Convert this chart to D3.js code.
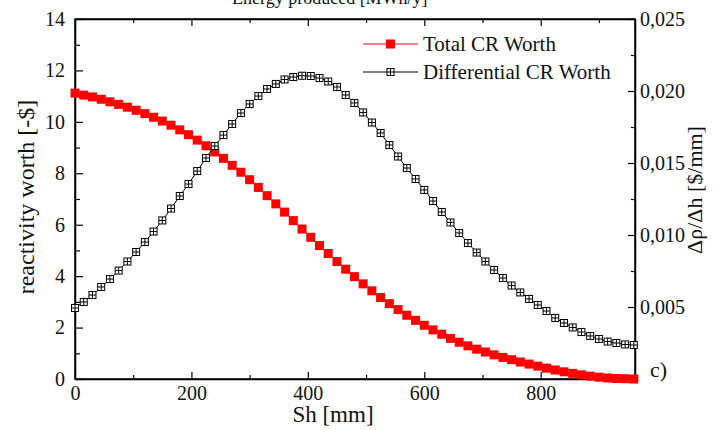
<!DOCTYPE html>
<html>
<head>
<meta charset="utf-8">
<script src="https://cdn.jsdelivr.net/npm/d3@7"></script>
<style>
  html, body { margin: 0; padding: 0; background: #fff; }
  svg text { font-family: "Liberation Serif", "Times New Roman", Times, serif; fill: #111; }
</style>
</head>
<body>
<div class="chart"></div>
<script>
// Rod position (mm) for every sample
const positions = [0, 15, 30, 45, 60, 75, 90, 105, 120, 135, 150, 165, 180, 195, 210, 225,
  240, 255, 270, 285, 300, 315, 330, 345, 360, 375, 390, 405, 420, 435, 450, 465,
  480, 495, 510, 525, 540, 555, 570, 585, 600, 615, 630, 645, 660, 675, 690, 705,
  720, 735, 750, 765, 780, 795, 810, 825, 840, 855, 870, 885, 900, 915, 930, 945, 960];

// Total CR worth [-$] (left axis)
const totalWorth = [11.12, 11.04, 10.97, 10.88, 10.78, 10.68, 10.57, 10.45, 10.32, 10.18, 10.03, 9.87,
  9.69, 9.50, 9.29, 9.07, 8.83, 8.58, 8.31, 8.04, 7.75, 7.45, 7.13, 6.81, 6.49, 6.16, 5.83, 5.51,
  5.19, 4.88, 4.57, 4.27, 3.98, 3.70, 3.43, 3.17, 2.93, 2.70, 2.48, 2.28, 2.09, 1.91, 1.74, 1.58,
  1.43, 1.29, 1.16, 1.05, 0.94, 0.84, 0.75, 0.66, 0.58, 0.50, 0.42, 0.35, 0.28, 0.22, 0.16, 0.11,
  0.07, 0.04, 0.02, 0.01, 0.00];

// Differential CR worth [$/mm] (right axis)
const diffWorth = [0.00493, 0.00535, 0.00583, 0.00639, 0.00694, 0.00753, 0.00816, 0.00882, 0.00951,
  0.01024, 0.01101, 0.01184, 0.01271, 0.01354, 0.01444, 0.01535, 0.01618, 0.01694, 0.01771, 0.01847,
  0.01910, 0.01965, 0.02014, 0.02049, 0.02080, 0.02097, 0.02106, 0.02104, 0.02090, 0.02066, 0.02028,
  0.01972, 0.01917, 0.01851, 0.01781, 0.01708, 0.01625, 0.01545, 0.01465, 0.01389, 0.01313, 0.01236,
  0.01160, 0.01087, 0.01014, 0.00944, 0.00878, 0.00816, 0.00757, 0.00701, 0.00649, 0.00601, 0.00556,
  0.00514, 0.00472, 0.00424, 0.00389, 0.00358, 0.00326, 0.00299, 0.00278, 0.00260, 0.00250, 0.00240,
  0.00236];

// Tick values
const xMajorTicks = [0, 200, 400, 600, 800];
const xMinorTicks = [100, 300, 500, 700, 900];
const yLeftMajor = [0, 2, 4, 6, 8, 10, 12, 14];
const yLeftMinor = [1, 3, 5, 7, 9, 11, 13];
const yRightMajor = [0.005, 0.010, 0.015, 0.020, 0.025];
const yRightMinor = [0.0025, 0.0075, 0.0125, 0.0175, 0.0225];

const seriesNames = ["Total CR Worth", "Differential CR Worth"];

// Chart dimensions
const W = 720, H = 430;
const plot = { left: 75, right: 635, top: 19, bottom: 379 };

const svg = d3.select(".chart")
  .append("svg")
  .attr("width", W)
  .attr("height", H)
  .style("display", "block");

svg.append("rect").attr("width", W).attr("height", H).attr("fill", "#fff");

// Scales
const x = d3.scaleLinear().domain([0, 962]).range([plot.left, plot.right]);
const yL = d3.scaleLinear().domain([0, 14]).range([plot.bottom, plot.top]);
const yR = d3.scaleLinear().domain([0, 0.025]).range([plot.bottom, plot.top]);

// Title of the panel above, cut off by the top edge
svg.append("text")
  .attr("x", 232)
  .attr("y", 4)
  .attr("font-size", 18)
  .text("Energy produced [MWh/y]");

// Axis helper: draws a major and a minor tick axis with inward ticks
function drawAxis(axisFn, scale, major, minor, transform, majorLen, minorLen, padding, fmt) {
  const gMaj = svg.append("g")
    .attr("transform", transform)
    .call(axisFn(scale).tickValues(major).tickSizeInner(-majorLen).tickSizeOuter(0)
      .tickPadding(padding).tickFormat(fmt));
  svg.append("g")
    .attr("transform", transform)
    .call(axisFn(scale).tickValues(minor).tickSizeInner(-minorLen).tickSizeOuter(0)
      .tickFormat(""))
    .select(".domain").remove();
  return gMaj;
}

const commaFmt = d => d3.format(".3f")(d).replace(".", ",");

drawAxis(d3.axisBottom, x, xMajorTicks, xMinorTicks,
  `translate(0,${plot.bottom})`, 7, 4, 7, d3.format("d"));
drawAxis(d3.axisTop, x, xMajorTicks, xMinorTicks,
  `translate(0,${plot.top})`, 7, 4, 8, "");
drawAxis(d3.axisLeft, yL, yLeftMajor, yLeftMinor,
  `translate(${plot.left},0)`, 8, 5, 10, d3.format("d"));
drawAxis(d3.axisRight, yR, yRightMajor, yRightMinor,
  `translate(${plot.right},0)`, 7, 4, 5, commaFmt);

// Frame lines
svg.append("path")
  .attr("d", `M${plot.left},${plot.top}H${plot.right}V${plot.bottom}H${plot.left}Z`)
  .attr("fill", "none")
  .attr("stroke", "#000")
  .attr("stroke-width", 1.5);

svg.selectAll(".tick line").attr("stroke", "#000").attr("stroke-width", 1.2);
svg.selectAll(".domain").attr("stroke", "#000").attr("stroke-width", 1.5);
svg.selectAll(".tick text").attr("font-size", 20);

// Axis titles
svg.append("text")
  .attr("transform", `translate(34,197) rotate(-90)`)
  .attr("text-anchor", "middle")
  .attr("font-size", 24)
  .text("reactivity worth [-$]");

svg.append("text")
  .attr("transform", `translate(702,190) rotate(-90)`)
  .attr("text-anchor", "middle")
  .attr("font-size", 22)
  .text("Δρ/Δh [$/mm]");

svg.append("text")
  .attr("x", 333)
  .attr("y", 422)
  .attr("text-anchor", "middle")
  .attr("font-size", 23)
  .text("Sh [mm]");

svg.append("text")
  .attr("x", 650)
  .attr("y", 377)
  .attr("font-size", 22)
  .text("c)");

// Line generators
const lineL = d3.line().x((d, i) => x(positions[i])).y(d => yL(d));
const lineR = d3.line().x((d, i) => x(positions[i])).y(d => yR(d));

// Total CR worth: red line with filled squares
const red = "#ff0000";
const rs = 9;
svg.append("path")
  .datum(totalWorth)
  .attr("fill", "none")
  .attr("stroke", red)
  .attr("stroke-width", 1)
  .attr("d", lineL);
svg.append("g")
  .selectAll("rect")
  .data(totalWorth)
  .join("rect")
  .attr("x", (d, i) => x(positions[i]) - rs / 2)
  .attr("y", d => yL(d) - rs / 2)
  .attr("width", rs)
  .attr("height", rs)
  .attr("fill", red);

// Differential CR worth: black line with crossed open squares
const bs = 7;
function crossSquare(g, cx, cy, s) {
  g.append("rect")
    .attr("x", cx - s / 2).attr("y", cy - s / 2)
    .attr("width", s).attr("height", s)
    .attr("fill", "#fff").attr("stroke", "#000").attr("stroke-width", 1);
  g.append("path")
    .attr("d", `M${cx - s / 2},${cy}H${cx + s / 2}M${cx},${cy - s / 2}V${cy + s / 2}`)
    .attr("stroke", "#000").attr("stroke-width", 1);
}

svg.append("path")
  .datum(diffWorth)
  .attr("fill", "none")
  .attr("stroke", "#000")
  .attr("stroke-width", 1)
  .attr("d", lineR);
const gBlack = svg.append("g");
diffWorth.forEach((d, i) => crossSquare(gBlack, x(positions[i]), yR(d), bs));

// Legend
const legend = svg.append("g");
const legendRows = [44, 72];
legend.append("line")
  .attr("x1", 363).attr("x2", 418)
  .attr("y1", legendRows[0]).attr("y2", legendRows[0])
  .attr("stroke", red).attr("stroke-width", 1);
legend.append("rect")
  .attr("x", 390.5 - rs / 2).attr("y", legendRows[0] - rs / 2)
  .attr("width", rs).attr("height", rs)
  .attr("fill", red);
legend.append("line")
  .attr("x1", 363).attr("x2", 418)
  .attr("y1", legendRows[1]).attr("y2", legendRows[1])
  .attr("stroke", "#000").attr("stroke-width", 1);
crossSquare(legend, 390.5, legendRows[1], bs);

legend.selectAll("text.lbl")
  .data(seriesNames)
  .join("text")
  .attr("class", "lbl")
  .attr("x", 423)
  .attr("y", (d, i) => legendRows[i])
  .attr("dy", "0.35em")
  .attr("font-size", 21)
  .text(d => d);
</script>
</body>
</html>
